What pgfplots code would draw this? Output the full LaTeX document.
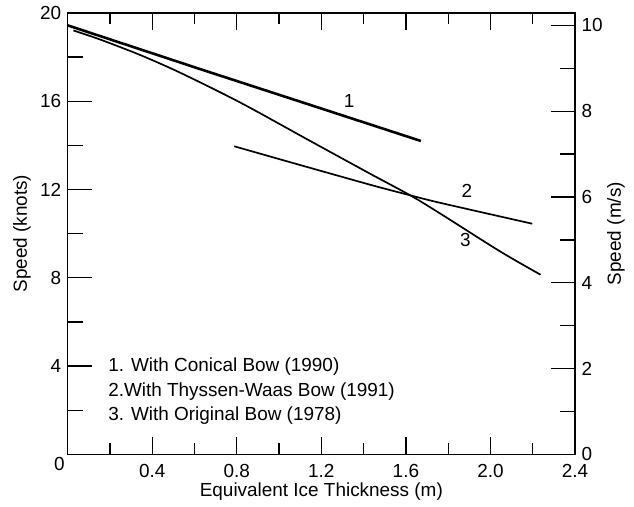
\documentclass[border=0pt]{standalone}
\usepackage{pgfplots}
\pgfplotsset{compat=1.18}
\usepackage{fontspec}
\setmainfont{Liberation Sans}

\pgfplotsset{
  base/.style={
    width=507.3bp, height=441.3bp, scale only axis,
    xmin=0, xmax=2.4,
    axis line style={line width=1.3bp},
    every tick/.style={line width=1.3bp, black},
    tick align=inside,
    /pgf/number format/assume math mode=true,
    ticklabel style={font=\fontsize{19}{23}\selectfont},
    label style={font=\fontsize{19}{23}\selectfont},
  },
  thin curve/.style={black, line width=1.7bp, line join=round},
}

\begin{document}
\fontsize{19}{23}\selectfont
\begin{tikzpicture}
% x ticks (bottom and top)
\begin{axis}[base,
    ymin=0, ymax=20,
    xtick={0,0.4,0.8,1.2,1.6,2.0,2.4},
    xticklabels={,0.4,0.8,1.2,1.6,2.0,2.4},
    minor xtick={0.2,0.6,1.0,1.4,1.8,2.2},
    xtick pos=both,
    ytick=\empty,
    major tick length=17bp, minor tick length=11bp,
    xticklabel style={yshift=-3bp},
    xlabel={Equivalent Ice Thickness (m)},
    xlabel style={at={(axis description cs:0.5,-0.0838)}, anchor=center},
]
\coordinate (bl) at (axis description cs:-0.1334,-0.1178);
\coordinate (tr) at (axis description cs:1.1163,1.0288);
\end{axis}

% left axis (knots) with the data
\begin{axis}[base,
    ymin=0, ymax=20,
    xtick=\empty,
    ytick={0,4,8,12,16,20},
    yticklabels={,4,8,12,16,20},
    minor ytick={2,6,10,14,18},
    ytick pos=left,
    major tick length=24bp, minor tick length=15bp,
    ylabel={Speed (knots)},
    ylabel style={at={(axis description cs:-0.0901,0.5)}, anchor=center},
    clip=false,
]
% 1. conical bow
\addplot[black, line width=2.6bp] coordinates {
  (0,19.44) (0.626,17.46) (1.383,15.10) (1.671,14.20)
};
% 2. Thyssen-Waas bow
\addplot[thin curve, smooth, tension=0.5] coordinates {
  (0.788,13.96) (1.03,13.30) (1.43,12.22) (1.62,11.74) (1.761,11.40) (2.198,10.45)
};
% 3. original bow
\addplot[thin curve, smooth, tension=0.5] coordinates {
  (0.027,19.21) (0.153,18.80) (0.342,18.10) (0.531,17.30) (0.815,15.95)
  (1.138,14.25) (1.43,12.72) (1.62,11.74) (1.761,10.92) (2.045,9.20) (2.237,8.14)
};
\node at (axis cs:1.331,16.01) {1};
\node at (axis cs:1.889,11.93) {2};
\node at (axis cs:1.881,9.70) {3};
\node at (axis description cs:-0.0162,-0.0227) {0};
\node[anchor=west, inner sep=0] at (axis cs:0.191,3.96) {1. With Conical Bow (1990)};
\node[anchor=west, inner sep=0] at (axis cs:0.191,2.84) {2.With Thyssen-Waas Bow (1991)};
\node[anchor=west, inner sep=0] at (axis cs:0.191,1.74) {3. With Original Bow (1978)};
\end{axis}

% right axis (m/s)
\begin{axis}[base,
    ymin=0, ymax=10.2889,
    xtick=\empty,
    ytick={0,2,4,6,8,10},
    minor ytick={1,3,5,7,9},
    ytick pos=right, yticklabel pos=right,
    major tick length=24bp, minor tick length=15bp,
    ylabel={Speed (m/s)},
    ylabel style={at={(axis description cs:1.0808,0.5)}, anchor=center},
]
\end{axis}
\path (bl) rectangle (tr);
\end{tikzpicture}
\end{document}
